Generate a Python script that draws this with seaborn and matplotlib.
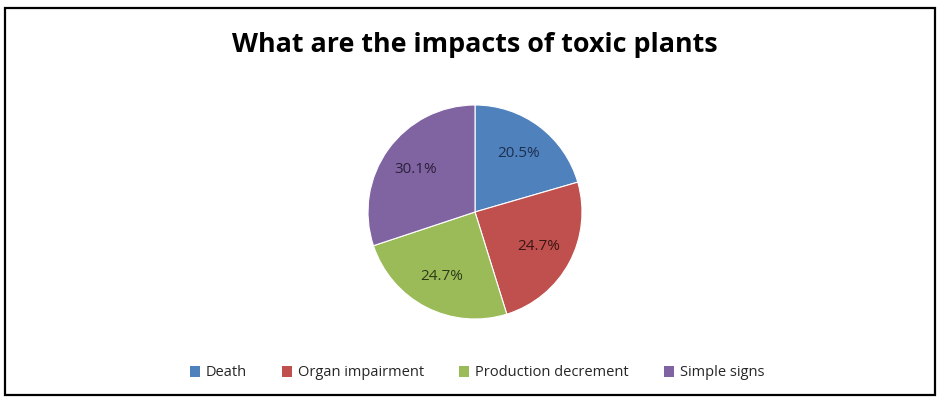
import matplotlib
matplotlib.use("Agg")
import matplotlib.pyplot as plt
import seaborn as sns
from matplotlib.patches import Rectangle, Patch

categories = ["Death", "Organ impairment", "Production decrement", "Simple signs"]
shares = [20.5, 24.7, 24.7, 30.1]
colors = ["#4F81BD", "#C0504D", "#9BBB59", "#8064A2"]
label_colors = ["#1c2f4f", "#3a1514", "#2e3a17", "#2b1f3a"]

sns.set_theme(style="white")
plt.rcParams["font.family"] = ["Open Sans", "DejaVu Sans"]

fig = plt.figure(figsize=(9.4, 4.03), dpi=100)
fig.patch.set_facecolor("white")

# outer frame
fig.patches.append(Rectangle((5 / 940, 8 / 403), 930 / 940, 387 / 403,
                             transform=fig.transFigure, fill=False,
                             edgecolor="black", linewidth=1.6))

fig.text(475 / 940, 1 - 45 / 403, "What are the impacts of toxic plants",
         ha="center", va="center", fontsize=19.4, fontweight="bold", color="black")

# pie area: centre (475, 212), radius ~107 px
r = 107
cx, cy = 475, 212
ax = fig.add_axes([(cx - r) / 940, 1 - (cy + r) / 403, 2 * r / 940, 2 * r / 403])
wedges, texts, autotexts = ax.pie(
    shares, colors=colors, startangle=90, counterclock=False,
    autopct="%.1f%%", pctdistance=0.68,
    wedgeprops=dict(edgecolor="white", linewidth=0.8),
    textprops=dict(fontsize=11),
)
for t, c in zip(autotexts, label_colors):
    t.set_color(c)
ax.set_xlim(-1, 1)
ax.set_ylim(-1, 1)
ax.set_aspect("equal")
ax.axis("off")

handles = [Patch(facecolor=c, edgecolor="none") for c in colors]
fig.legend(handles, categories, loc="center", bbox_to_anchor=(477 / 940, 1 - 373 / 403),
           ncol=4, frameon=False, fontsize=10.5, handlelength=0.7, handleheight=0.7,
           handletextpad=0.4, columnspacing=2.4)

fig.savefig("out.png", dpi=100, facecolor="white")
